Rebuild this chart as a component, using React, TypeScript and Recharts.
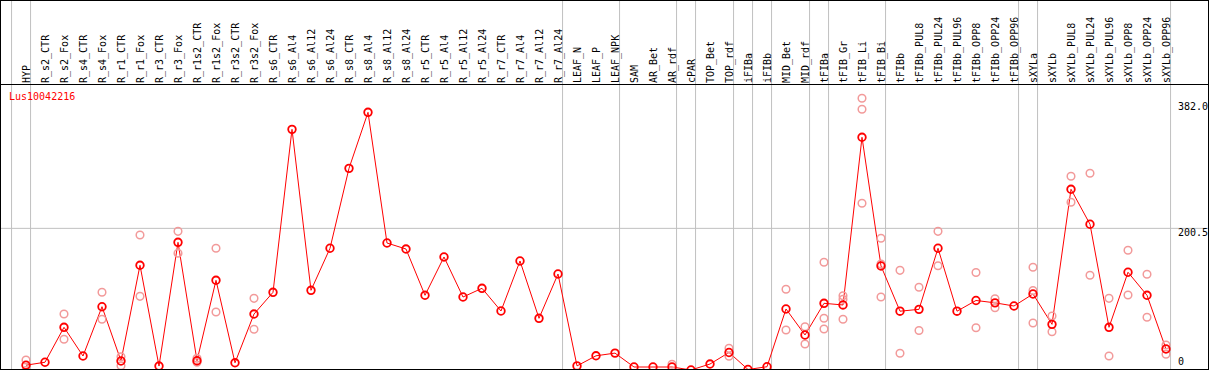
import React from 'react';
import { ComposedChart, Line, Scatter, XAxis, YAxis, ReferenceLine, Legend } from 'recharts';

const geneName = 'Lus10042216';

const categories = [
  'HYP', 'R_s2_CTR', 'R_s2_Fox', 'R_s4_CTR', 'R_s4_Fox', 'R_r1_CTR', 'R_r1_Fox', 'R_r3_CTR', 'R_r3_Fox',
  'R_r1s2_CTR', 'R_r1s2_Fox', 'R_r3s2_CTR', 'R_r3s2_Fox', 'R_s6_CTR', 'R_s6_Al4', 'R_s6_Al12', 'R_s6_Al24',
  'R_s8_CTR', 'R_s8_Al4', 'R_s8_Al12', 'R_s8_Al24', 'R_r5_CTR', 'R_r5_Al4', 'R_r5_Al12', 'R_r5_Al24',
  'R_r7_CTR', 'R_r7_Al4', 'R_r7_Al12', 'R_r7_Al24', 'LEAF_N', 'LEAF_P', 'LEAF_NPK', 'SAM', 'AR_Bet', 'AR_rdf',
  'cPAR', 'TOP_Bet', 'TOP_rdf', 'iFIBa', 'iFIBb', 'MID_Bet', 'MID_rdf', 'tFIBa', 'tFIB_Gr', 'tFIB_Li', 'tFIB_Bi',
  'tFIBb', 'tFIBb_PUL8', 'tFIBb_PUL24', 'tFIBb_PUL96', 'tFIBb_OPP8', 'tFIBb_OPP24', 'tFIBb_OPP96',
  'sXYLa', 'sXYLb', 'sXYLb_PUL8', 'sXYLb_PUL24', 'sXYLb_PUL96', 'sXYLb_OPP8', 'sXYLb_OPP24', 'sXYLb_OPP96',
];

// mean expression per sample
const meanValues = [
  2.6, 6.9, 57.4, 15.9, 87.2, 8.7, 147.1, 1.4, 180.3,
  9.1, 125.4, 6.1, 76.6, 108.0, 343.7, 110.9, 171.7,
  287.3, 368.3, 179.3, 170.6, 103.7, 159.1, 101.2, 113.8,
  81.0, 153.3, 70.4, 134.5, 1.6, 16.2, 20.1, 0, 0, 0,
  -4.3, 4.3, 21.0, -3.6, 0.4, 83.9, 46.3, 92.1, 89.7, 332.2, 146.1,
  80.7, 83.4, 171.7, 80.7, 96.2, 92.8, 88.2,
  105.6, 61.7, 257.0, 206.4, 57.4, 137.0, 103.7, 26.0,
];

// individual replicates (null = no visible replicate)
const rep1 = [
  10.1, null, 76.6, null, 108.0, 14.9, 190.9, null, 196.2,
  12.6, 171.7, null, 99.3, null, null, null, null,
  null, null, null, null, null, null, null, null,
  null, null, null, null, null, null, null, null, null, 3.9,
  null, null, 27.0, null, null, 112.4, 58.3, 151.4, 103.1, 388.6, 186.1,
  139.8, 115.3, 196.2, null, 136.7, 98.8, null,
  144.2, 73.8, 275.8, 280.1, 99.3, 168.8, 134.1, 31.8,
];
const rep2 = [
  -5, null, 40.1, null, 69.0, 1.9, 102.2, null, 164.4,
  6.8, 79.5, null, 54.5, null, null, null, null,
  null, null, null, null, null, null, null, null,
  null, null, null, null, null, null, null, null, null, null,
  null, null, 15.6, null, null, 53.5, 33.3, 70.4, 97.9, 372.7, 149.0,
  19.8, 52.8, 146.5, null, 56.7, 85.6, null,
  110.6, 51.0, 238.2, 132.6, 15.9, 104.1, 71.9, 18.4,
];
const rep3 = [
  null, null, null, null, null, null, null, null, null,
  null, null, null, null, null, null, null, null,
  null, null, null, null, null, null, null, null,
  null, null, null, null, null, null, null, null, null, null,
  null, null, null, null, null, null, null, 55.0, 69.0, 236.7, 101.2,
  null, null, null, null, null, null, null,
  63.6, null, null, null, null, null, null, null,
];

// first sample of each tissue group (vertical separators)
const groupStarts = ['HYP', 'R_s2_CTR', 'LEAF_N', 'SAM', 'cPAR', 'TOP_Bet', 'iFIBa', 'iFIBb', 'MID_Bet', 'tFIBa', 'tFIB_Gr', 'tFIBb', 'sXYLa', 'sXYLb'];

const yTicks = [0, 200.5, 382];

const W = 1209;
const H = 370;
const STEP = 19;
const X0 = -26 / STEP;
const X1 = X0 + W / STEP;
const PX = 0.6915;
const Y0 = -3 / PX;
const Y1 = Y0 + H / PX;
const FONT = '"DejaVu Sans Mono", monospace';

const meanData = categories.map((c, i) => ({ x: i, mean: meanValues[i] }));
const repData = [rep1, rep2, rep3].flatMap((arr) =>
  arr.map((v, i) => ({ x: i, y: v })).filter((p) => p.y !== null)
);
const separators = [...groupStarts.map((c) => categories.indexOf(c)), categories.length].map((i) => i - 0.76);

const CategoryTick = ({ x, payload }: any) => {
  const tx = x + 4;
  return (
    <text x={tx} y={83} transform={`rotate(-90 ${tx} 83)`} fontSize={10} fontFamily={FONT} fill="#000">
      {categories[payload.value]}
    </text>
  );
};

const ValueTick = ({ y, payload }: any) => (
  <text x={W - 31} y={y + (payload.value === 0 ? -2 : 7.5)} fontSize={10} fontFamily={FONT} fill="#000">
    {payload.value === 0 ? '0' : payload.value.toFixed(1)}
  </text>
);

const RepDot = ({ cx, cy }: any) => (
  <circle cx={cx} cy={cy} r={3.8} fill="none" stroke="#f29a9a" strokeWidth={1.5} />
);

export default function App() {
  return (
    <div style={{ position: 'absolute', left: 0, top: 0, width: W, height: H, background: '#fff' }}>
      <ComposedChart width={W} height={H} margin={{ top: -1, right: -1, bottom: 0, left: 0 }}>
        <XAxis
          dataKey="x"
          type="number"
          orientation="top"
          height={1}
          domain={[X0, X1]}
          allowDataOverflow
          ticks={categories.map((_, i) => i)}
          interval={0}
          tick={(p: any) => <CategoryTick {...p} />}
          tickLine={false}
          axisLine={false}
        />
        <YAxis
          type="number"
          orientation="right"
          width={1}
          domain={[Y0, Y1]}
          allowDataOverflow
          ticks={yTicks}
          interval={0}
          tick={(p: any) => <ValueTick {...p} />}
          tickLine={false}
          axisLine={false}
        />
        {separators.map((s) => (
          <ReferenceLine key={s} x={s} stroke="#c0c0c0" strokeWidth={1} />
        ))}
        <ReferenceLine y={200.5} stroke="#c0c0c0" strokeWidth={1} />
        <Legend
          layout="horizontal"
          verticalAlign="middle"
          align="center"
          wrapperStyle={{ position: 'absolute', top: 92, left: 9, width: 'auto' }}
          content={() => (
            <div style={{ color: '#ff0000', fontFamily: FONT, fontSize: 10, lineHeight: '10px' }}>{geneName}</div>
          )}
        />
        <Scatter data={repData} dataKey="y" shape={<RepDot />} isAnimationActive={false} legendType="none" />
        <Line
          data={meanData}
          dataKey="mean"
          name={geneName}
          stroke="#ff0000"
          strokeWidth={1}
          dot={{ r: 3.8, stroke: '#ff0000', strokeWidth: 1.8, fill: 'none' }}
          activeDot={false}
          isAnimationActive={false}
        />
      </ComposedChart>
      <div
        style={{
          position: 'absolute', left: 0, top: 0, width: W, height: H, boxSizing: 'border-box',
          border: '1px solid #000', pointerEvents: 'none',
        }}
      />
      <div style={{ position: 'absolute', left: 0, top: 84, width: W, height: 1, background: '#000', pointerEvents: 'none' }} />
    </div>
  );
}
